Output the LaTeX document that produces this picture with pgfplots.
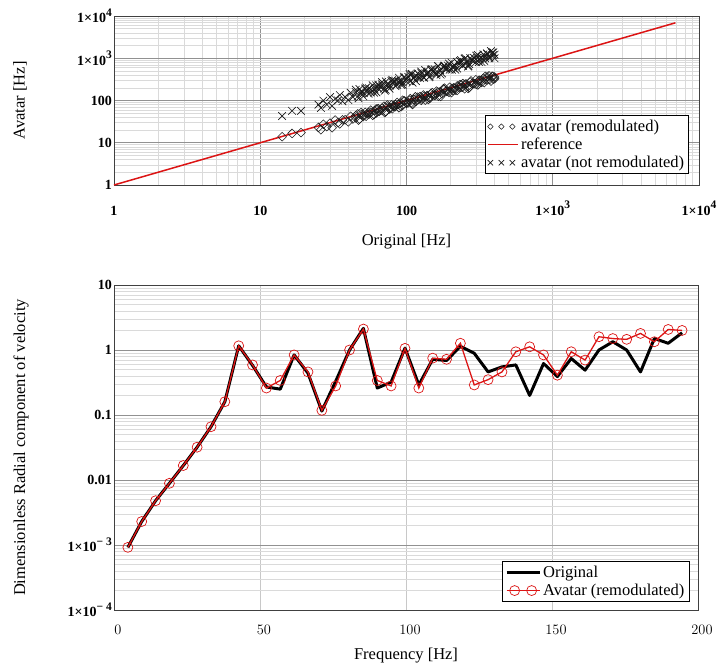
\documentclass[border=0pt]{standalone}
\usepackage{fontspec}
\setmainfont{Liberation Serif}
\usepackage{pgfplots}
\pgfplotsset{compat=1.18}

\definecolor{refred}{RGB}{220,20,20}
\definecolor{majgrid}{RGB}{145,145,145}
\definecolor{mingrid}{RGB}{218,218,218}
\newcommand\sups[1]{\raisebox{0.45em}{\fontsize{11.5}{12}\selectfont #1}}

\pgfplotsset{
 common/.style={
  scale only axis,
  axis line style={black!75, line width=0.9pt},
  major tick length=0pt, minor tick length=0pt,
  grid=both,
  major grid style={majgrid, line width=0.7pt},
  minor grid style={mingrid, line width=0.5pt},
  tick label style={font=\fontsize{14}{16}\selectfont\bfseries},
  label style={font=\fontsize{16.5}{19}\selectfont},
  legend style={font=\fontsize{16.5}{19}\selectfont, draw=black, line width=0.7pt, fill=white, inner sep=2.5pt, row sep=1pt, cells={anchor=west}},
  yticklabel style={anchor=east, inner sep=0pt, xshift=-2pt},
  xticklabel style={anchor=base, inner sep=0pt},
 },
 legdiam/.style={legend image code/.code={\draw[##1, mark size=1.9pt] plot coordinates {(2pt,0pt)(13pt,0pt)(24pt,0pt)};}},
 legcross/.style={legend image code/.code={\draw[##1, mark size=3.8pt] plot coordinates {(2pt,0pt)(13pt,0pt)(24pt,0pt)};}},
 legline/.style={legend image code/.code={\draw[##1] (0pt,0pt) -- (#1,0pt);}},
 legcirc/.style={legend image code/.code={\draw[##1] (0pt,0pt) -- (33pt,0pt); \draw[##1, only marks] plot coordinates {(8pt,0pt)(25pt,0pt)};}},
}

\begin{document}
\begin{tikzpicture}
\begin{axis}[common, name=top,
  xmode=log, ymode=log,
  width=585pt, height=169pt,
  xmin=1, xmax=10000, ymin=1, ymax=10000,
  xtick={1,10,100,1000,10000},
  xticklabels={1,10,100,{1×10\sups{3}},{1×10\sups{4}}},
  ytick={1,10,100,1000,10000},
  yticklabels={1,10,100,{1×10\sups{3}},{1×10\sups{4}}},
  minor xtick={2,3,4,5,6,7,8,9,20,30,40,50,60,70,80,90,200,300,400,500,600,700,800,900,2000,3000,4000,5000,6000,7000,8000,9000},
  minor ytick={2,3,4,5,6,7,8,9,20,30,40,50,60,70,80,90,200,300,400,500,600,700,800,900,2000,3000,4000,5000,6000,7000,8000,9000},
  xticklabel style={yshift=-30pt},
  xlabel={Original [Hz]},
  ylabel={Avatar [Hz]},
  xlabel style={at={(axis description cs:0.5,-0.337)}, anchor=center},
  ylabel style={at={(axis description cs:-0.1607,0.5)}, anchor=center},
  legend style={at={(0.983,0.065)}, anchor=south east},
]
\addplot[only marks, mark=square, mark size=3.1pt, black!90, mark options={rotate=45, line width=0.55pt}, legdiam]
coordinates {
(14.1,13.9)(16.5,16.6)(19.0,17.3)
(25,23.0)(26,20.3)(27,27.5)(28.5,24.2)(30,29.1)(31,22.6)(32.5,34.5)(34,29.9)(35,28.0)(36.5,34.7)
(38,35.0)(40,31.2)(41.5,42.3)(43,36.6)(45,43.7)(47,34.3)(49,51.9)(51,44.9)(53,42.4)(55,52.3)
(57,52.4)(60,46.8)(62,63.2)(65,55.3)(68,66.0)(71,51.8)(74,78.4)(77,67.8)(80,64.0)(84,79.8)
(88,81.0)(92,71.8)(96,97.9)(100,85.0)(105,101.9)(110,80.3)(115,121.9)(120,105.6)(126,100.8)(132,125.4)
(138,127.0)(144,112.3)(150,153.0)(157,133.5)(164,159.1)(171,124.8)(179,189.7)(187,164.6)(195,156.0)(204,193.8)
(213,196.0)(222,173.2)(232,236.6)(242,205.7)(253,245.4)(264,192.7)(276,292.6)(288,253.4)(300,240.0)(313,297.4)
(326,299.9)(340,265.2)(355,362.1)(370,314.5)(385,373.5)(400,360)
(63,63)(72,54)(82,73.8)(94,101.5)(108,88.6)(124,124)(141,105.8)(160,144)(182,196.6)(208,170.6)
(236,236)(268,201)(305,274.5)(345,372.6)(392,321.4)
(45,38.7)(46.4,48.3)(47.7,36.3)(49.2,46.7)(50.6,41.5)(52.2,52.2)(53.7,48.3)(55.3,47.6)(57.0,59.3)(58.7,44.6)
(60.5,57.5)(62.3,51.1)(64.2,64.2)(66.1,59.5)(68.1,58.6)(70.1,72.9)(72.2,54.9)(74.4,70.7)(76.6,62.8)(78.9,78.9)
(81.3,73.2)(83.7,72.0)(86.2,89.6)(88.8,67.5)(91.5,86.9)(94.2,77.2)(97.0,97.0)(99.9,89.9)(102.9,88.5)(106.0,110.2)
(109.2,83.0)(112.5,106.9)(115.9,95.0)(119.3,119.3)(122.9,110.6)(126.6,108.9)(130.4,135.6)(134.3,102.1)(138.3,131.4)(142.5,116.9)
(146.8,146.8)(151.2,136.1)(155.7,133.9)(160.4,166.8)(165.2,125.6)(170.1,161.6)(175.2,143.7)(180.5,180.5)(185.9,167.3)(191.5,164.7)
(197.2,205.1)(203.1,154.4)(209.2,198.7)(215.5,176.7)(222.0,222.0)(228.6,205.7)(235.5,202.5)(242.5,252.2)(249.8,189.8)(257.3,244.4)
(265.0,217.3)(273.0,273.0)(281.2,253.1)(289.6,249.1)(298.3,310.2)(307.2,233.5)(316.4,300.6)(325.9,267.2)(335.7,335.7)(345.8,311.2)
(356.2,306.3)(366.9,381.6)(377.9,287.2)(389.2,369.7)(400,328)
};
\addlegendentry{avatar (remodulated)}
\addplot[color=refred, line width=1.5pt, legend image code/.code={\draw[refred, line width=1.5pt] (0pt,0pt) -- (30pt,0pt);}]
coordinates {(1,1)(6900,6900)};
\addlegendentry{reference}
\addplot[only marks, mark=x, mark size=5.4pt, black!90, mark options={line width=0.65pt}, legcross]
coordinates {
(14.1,43)(16.5,57)(19.0,57)
(25,80)(26,66.6)(27,99.4)(28.5,80.3)(30,120)(31,74.4)(32.5,109.2)(34,100.1)(35,134.4)(36.5,95.8)
(38,121.6)(40,102.4)(41.5,152.7)(43,121.1)(45,180)(47,112.8)(49,164.6)(51,150.1)(53,203.5)(55,144.3)
(57,182.4)(60,153.6)(62,228.2)(65,183.0)(68,272)(71,170.4)(74,248.6)(77,226.7)(80,307.2)(84,220.4)
(88,281.6)(92,235.5)(96,353.3)(100,281.6)(105,420)(110,264)(115,386.4)(120,353.3)(126,483.8)(132,346.4)
(138,441.6)(144,368.6)(150,552)(157,442.1)(164,656)(171,410.4)(179,601.4)(187,550.5)(195,748.8)(204,535.3)
(213,681.6)(222,568.3)(232,853.8)(242,681.5)(253,1012)(264,633.6)(276,927.4)(288,847.9)(300,1152)(313,821.3)
(326,1043)(340,870.4)(355,1306)(370,1042)(385,1355)(400,1216)
(63,201.6)(72,179.7)(82,288.6)(94,270.7)(108,414.7)(124,337.3)(141,473.8)(160,399.4)(182,669.8)(208,599)
(236,906.2)(268,729)(305,1024.8)(345,993.6)(392,1380)
(45,158.4)(46.4,126.2)(47.7,186.2)(49.2,149.6)(50.6,126.3)(52.2,192.1)(53.7,171.8)(55.3,194.7)(57.0,155.0)(58.7,229.2)
(60.5,183.9)(62.3,155.5)(64.2,236.3)(66.1,211.5)(68.1,239.7)(70.1,190.7)(72.2,281.9)(74.4,226.2)(76.6,191.2)(78.9,290.4)
(81.3,260.2)(83.7,294.6)(86.2,234.5)(88.8,346.7)(91.5,278.2)(94.2,235.1)(97.0,357.0)(99.9,319.7)(102.9,362.2)(106.0,288.3)
(109.2,426.3)(112.5,342)(115.9,289.3)(119.3,439.0)(122.9,393.3)(126.6,445.6)(130.4,354.7)(134.3,524.3)(138.3,420.4)(142.5,355.7)
(146.8,540.2)(151.2,483.8)(155.7,548.1)(160.4,436.3)(165.2,644.9)(170.1,517.1)(175.2,437.3)(180.5,664.2)(185.9,594.9)(191.5,674.1)
(197.2,536.4)(203.1,792.9)(209.2,636.0)(215.5,537.9)(222.0,817.0)(228.6,731.5)(235.5,829.0)(242.5,659.6)(249.8,975.2)(257.3,782.2)
(265.0,661.4)(273.0,1004.6)(281.2,899.8)(289.6,1019.4)(298.3,811.4)(307.2,1199.3)(316.4,961.9)(325.9,813.5)(335.7,1235.4)(345.8,1106.6)
(356.2,1253.8)(366.9,998.0)(377.9,1475.3)(389.2,1183.2)(400,998.4)
};
\addlegendentry{avatar (not remodulated)}
\end{axis}

\begin{axis}[common,
  at={(top.south west)}, anchor=north west, yshift=-100pt,
  ymode=log,
  width=584pt, height=325pt,
  xmin=0, xmax=200, ymin=1e-4, ymax=10,
  xtick={0,50,100,150,200},
  xticklabel style={yshift=-24pt, xshift=4pt},
  ytick={1e-4,1e-3,0.01,0.1,1,10},
  yticklabels={{1×10\sups{− 4}},{1×10\sups{− 3}},0.01,0.1,1,10},
  minor ytick={2e-4,3e-4,4e-4,5e-4,6e-4,7e-4,8e-4,9e-4,2e-3,3e-3,4e-3,5e-3,6e-3,7e-3,8e-3,9e-3,0.02,0.03,0.04,0.05,0.06,0.07,0.08,0.09,0.2,0.3,0.4,0.5,0.6,0.7,0.8,0.9,2,3,4,5,6,7,8,9},
  minor xtick={},
  x grid style={mingrid!80!gray, line width=0.7pt},
  xlabel={Frequency [Hz]},
  ylabel={Dimensionless Radial component of velocity},
  xlabel style={at={(axis description cs:0.5,-0.1415)}, anchor=center},
  ylabel style={at={(axis description cs:-0.159,0.5)}, anchor=center},
  legend style={at={(0.985,0.025)}, anchor=south east},
]
\addplot[black, line width=3pt, line join=round, legline=33pt]
coordinates {
(4.75,0.00092)(9.49,0.0023)(14.24,0.0048)(18.98,0.0089)(23.73,0.0167)(28.47,0.032)(33.22,0.066)(37.96,0.16)
(42.71,1.16)(47.45,0.58)(52.20,0.27)(56.94,0.25)(61.69,0.84)(66.43,0.44)(71.18,0.115)(75.92,0.33)
(80.67,1.0)(85.41,2.15)(90.16,0.26)(94.90,0.32)(99.65,1.07)(104.39,0.29)(109.14,0.72)(113.88,0.69)
(118.63,1.14)(123.37,0.89)(128.12,0.46)(132.86,0.55)(137.61,0.59)(142.35,0.20)(147.10,0.62)(151.84,0.39)
(156.59,0.74)(161.33,0.49)(166.08,1.0)(170.82,1.34)(175.57,1.0)(180.31,0.46)(185.06,1.5)(189.80,1.27)(194.55,1.84)
};
\addlegendentry{Original}
\addplot[refred, line width=1.3pt, mark=o, mark size=5pt, mark options={line width=0.7pt}, legcirc]
coordinates {
(4.75,0.00092)(9.49,0.0023)(14.24,0.0048)(18.98,0.0089)(23.73,0.0167)(28.47,0.032)(33.22,0.066)(37.96,0.16)
(42.71,1.16)(47.45,0.59)(52.20,0.26)(56.94,0.34)(61.69,0.84)(66.43,0.46)(71.18,0.118)(75.92,0.28)
(80.67,1.0)(85.41,2.1)(90.16,0.34)(94.90,0.28)(99.65,1.06)(104.39,0.26)(109.14,0.75)(113.88,0.72)
(118.63,1.27)(123.37,0.29)(128.12,0.35)(132.86,0.46)(137.61,0.94)(142.35,1.12)(147.10,0.84)(151.84,0.41)
(156.59,0.94)(161.33,0.70)(166.08,1.6)(170.82,1.5)(175.57,1.46)(180.31,1.8)(185.06,1.34)(189.80,2.07)(194.55,2.0)
};
\addlegendentry{Avatar (remodulated)}
\end{axis}
\pgfresetboundingbox
\path ([shift={(-114pt,16pt)}]top.north west) rectangle ++(719pt,-669pt);
\end{tikzpicture}
\end{document}
